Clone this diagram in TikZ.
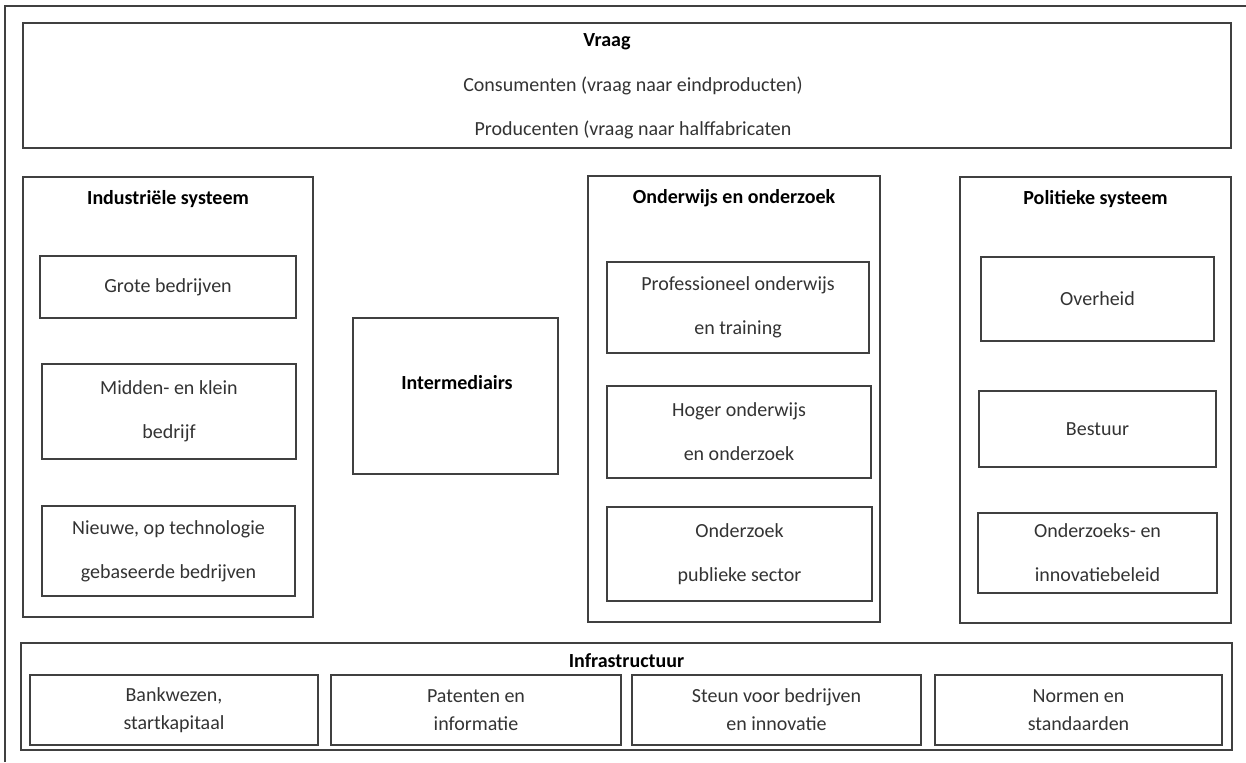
\documentclass[tikz,border=0pt]{standalone}
\usepackage{fontspec}
\setmainfont{Carlito}
\usetikzlibrary{positioning}

\begin{document}
\begin{tikzpicture}[x=0.5pt, y=-0.5pt]
\tikzstyle{frame} = [rectangle, draw=black!75, line width=0.6pt, inner sep=0pt]
\tikzstyle{item} = [frame, align=center, text=black!80, font=\fontsize{10}{22}\selectfont]
\tikzstyle{infra} = [frame, align=center, text=black!80, font=\fontsize{10}{14}\selectfont, minimum height=35pt]
\tikzstyle{head} = [inner sep=0pt, font=\fontsize{10}{12}\selectfont\bfseries]
\tikzstyle{txt} = [inner sep=0pt, text=black!80, font=\fontsize{10}{12}\selectfont]

\useasboundingbox (0,0) rectangle (1246,762);
\draw[black!75, line width=0.6pt] (5,762) |- (1246,6);

% vraag
\node (vraag) [frame, minimum width=604pt, minimum height=62.5pt] at (627,85.5) {};
\node (vraagtitle) [head] at (607,42) {Vraag};
\node (consument) [txt] at (633,86) {Consumenten (vraag naar eindproducten)};
\node (producent) [txt] at (633,130) {Producenten (vraag naar halffabricaten};

% industriele systeem
\node (ind) [frame, minimum width=145pt, minimum height=220pt] at (168,397) {};
\node (indtitle) [head, below=7pt of ind.north] {Industriële systeem};
\node (grote) [item, minimum width=128pt, minimum height=31pt] at (168,287) {Grote bedrijven};
\node (midden) [item, minimum width=127pt, minimum height=47.5pt] at (169,411.5) {Midden- en klein\\bedrijf};
\node (nieuw) [item, minimum width=126.5pt, minimum height=45pt] at (168.5,551) {Nieuwe, op technologie\\gebaseerde bedrijven};

% intermediairs
\node (inter) [frame, minimum width=102.5pt, minimum height=78pt] at (455.5,396) {};
\node (intertitle) [head] at (457,383) {Intermediairs};

% onderwijs en onderzoek
\node (ondw) [frame, minimum width=146pt, minimum height=223pt] at (734,399) {};
\node (ondwtitle) [head, below=7pt of ondw.north] {Onderwijs en onderzoek};
\node (prof) [item, minimum width=131pt, minimum height=45.5pt] at (738,307.5) {Professioneel onderwijs\\en training};
\node (hoger) [item, minimum width=132pt, minimum height=46pt] at (739,432) {Hoger onderwijs\\en onderzoek};
\node (publiek) [item, minimum width=132.5pt, minimum height=47pt] at (739.5,554) {Onderzoek\\publieke sector};

% politieke systeem
\node (pol) [frame, minimum width=135.5pt, minimum height=223pt] at (1095.5,400) {};
\node (poltitle) [head, below=7pt of pol.north] {Politieke systeem};
\node (overheid) [item, minimum width=116.5pt, minimum height=42pt] at (1097.5,299) {Overheid};
\node (bestuur) [item, minimum width=118.5pt, minimum height=38pt] at (1097.5,429) {Bestuur};
\node (beleid) [item, minimum width=119.5pt, minimum height=40pt] at (1097.5,553) {Onderzoeks- en\\innovatiebeleid};

% infrastructuur
\node (infra) [frame, minimum width=605.5pt, minimum height=53.5pt] at (626.5,696.5) {};
\node (infratitle) [head, below=5.5pt of infra.north] {Infrastructuur};
\node (bank) [infra, minimum width=144pt] at (174,710) {Bankwezen,\\startkapitaal};
\node (patent) [infra, minimum width=145pt] at (476,710) {Patenten en\\informatie};
\node (steun) [infra, minimum width=144.5pt] at (776.5,710) {Steun voor bedrijven\\en innovatie};
\node (normen) [infra, minimum width=143.5pt] at (1078.5,710) {Normen en\\standaarden};

\end{tikzpicture}
\end{document}
